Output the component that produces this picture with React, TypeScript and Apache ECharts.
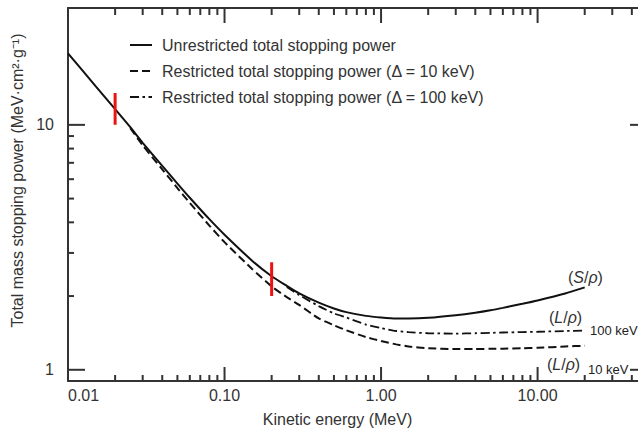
import React, { useEffect, useRef } from "react";
import * as echarts from "echarts";

// Kinetic energy (MeV)
const energy = [0.01, 0.015, 0.02, 0.025, 0.03, 0.04, 0.05, 0.06, 0.08, 0.1, 0.15, 0.2, 0.25, 0.3, 0.4, 0.5, 0.6, 0.8, 1.0, 1.25, 1.5, 2, 3, 4, 5, 6, 8, 10, 15, 20];
// Unrestricted total stopping power (S/rho)
const unrestricted = [19.6, 14.4, 11.6, 9.78, 8.45, 6.8, 5.76, 5.04, 4.12, 3.56, 2.79, 2.41, 2.2, 2.05, 1.88, 1.78, 1.72, 1.66, 1.635, 1.62, 1.62, 1.63, 1.67, 1.71, 1.75, 1.79, 1.86, 1.92, 2.05, 2.17];
// Restricted, delta = 10 keV
const restricted10 = [null, null, null, 9.7, 8.25, 6.58, 5.52, 4.8, 3.88, 3.32, 2.58, 2.19, 1.98, 1.84, 1.62, 1.52, 1.45, 1.36, 1.31, 1.27, 1.245, 1.225, 1.215, 1.215, 1.218, 1.22, 1.225, 1.23, 1.245, 1.254];
// Restricted, delta = 100 keV
const restricted100 = [null, null, null, null, null, null, null, null, null, null, null, null, 2.18, 2.02, 1.82, 1.7, 1.635, 1.53, 1.48, 1.44, 1.425, 1.41, 1.405, 1.41, 1.415, 1.42, 1.425, 1.43, 1.44, 1.445];

// Red markers
const markerEnergy = [0.02, 0.2];
const markerLow = [10, 2.0];
const markerHigh = [13.5, 2.75];

// Ticks
const xMajorTicks = [0.1, 1, 10];
const xMinorTicks = [0.02, 0.03, 0.04, 0.05, 0.06, 0.07, 0.08, 0.09, 0.2, 0.3, 0.4, 0.5, 0.6, 0.7, 0.8, 0.9, 2, 3, 4, 5, 6, 7, 8, 9, 20, 30, 40];
const yMajorTicks = [1, 10];
const yMinorTicks = [2, 3, 4, 5, 6, 7, 8, 9];

const seriesNames = [
  "Unrestricted total stopping power",
  "Restricted total stopping power (Δ = 10 keV)",
  "Restricted total stopping power (Δ = 100 keV)",
];

const FONT = "'Liberation Sans', Arial, Helvetica, sans-serif";
const AX = "#333";
const X_MIN = 0.01, X_MAX = 50, Y_MIN = 0.9, Y_MAX = 30;

const toPairs = (vals: (number | null)[]) =>
  energy.map((e, i) => [e, vals[i]]).filter((p) => p[1] != null);

export default function App() {
  const ref = useRef<HTMLDivElement>(null);
  useEffect(() => {
    if (!ref.current) return;
    const chart = echarts.init(ref.current, undefined, { renderer: "svg" });
    const tickStyle = { stroke: AX, lineWidth: 2 };
    const baseX = {
      type: "log",
      logBase: 10,
      min: X_MIN,
      max: X_MAX,
      splitLine: { show: false },
      axisTick: { show: false },
      axisLine: { show: true, lineStyle: { color: AX, width: 2 } },
    };
    const baseY = {
      type: "log",
      logBase: 10,
      min: Y_MIN,
      max: Y_MAX,
      splitLine: { show: false },
      axisTick: { show: false },
      axisLine: { show: true, lineStyle: { color: AX, width: 2 } },
    };
    const rich = {
      n: { fontFamily: FONT, fontSize: 16, fill: "#333" },
      i: { fontFamily: FONT, fontSize: 16, fontStyle: "italic", fill: "#333" },
    };
    // [x, y, kind, length]; kind 0 = x tick, 1 = y tick
    const tickData = [
      ...xMajorTicks.map((v) => [v, 1, 0, 1]),
      ...xMinorTicks.map((v) => [v, 1, 0, 0]),
      ...yMajorTicks.map((v) => [0.1, v, 1, 1]),
      ...yMinorTicks.map((v) => [0.1, v, 1, 0]),
    ];
    const option: any = {
      animation: false,
      textStyle: { fontFamily: FONT },
      grid: { left: 68, top: 8, right: -9, bottom: 51, containLabel: false, outerBoundsMode: "none" },
      legend: {
        data: seriesNames,
        orient: "vertical",
        left: 124,
        top: 32,
        itemWidth: 22,
        itemHeight: 14,
        itemGap: 10,
        itemStyle: { opacity: 0 },
        textStyle: { fontFamily: FONT, fontSize: 16, color: "#333", padding: [0, 0, 0, 5] },
        selectedMode: false,
      },
      xAxis: [
        {
          ...baseX,
          position: "bottom",
          name: "Kinetic energy (MeV)",
          nameLocation: "middle",
          nameGap: 30,
          nameTextStyle: { fontFamily: FONT, fontSize: 16, color: "#333", padding: [0, 40, 0, 0] },
          axisLabel: {
            show: true,
            fontFamily: FONT,
            fontSize: 16,
            color: "#333",
            margin: 6,
            showMinLabel: true,
            showMaxLabel: false,
            alignMinLabel: "left",
            formatter: (v: number) => v.toFixed(2),
          },
        },
        { ...baseX, position: "top", axisLabel: { show: false } },
      ],
      yAxis: [
        {
          ...baseY,
          position: "left",
          name: "Total mass stopping power (MeV·cm²·g⁻¹)",
          nameLocation: "middle",
          nameGap: 38,
          nameTextStyle: { fontFamily: FONT, fontSize: 16, color: "#333", padding: [0, 0, 0, 28] },
          axisLabel: {
            show: true,
            fontFamily: FONT,
            fontSize: 16,
            color: "#333",
            margin: 14,
            showMinLabel: false,
            showMaxLabel: false,
            formatter: (v: number) => String(Math.round(v)),
          },
        },
        { ...baseY, position: "right", axisLabel: { show: false } },
      ],
      series: [
        {
          name: seriesNames[0],
          type: "line",
          data: toPairs(unrestricted),
          symbol: "none",
          smooth: 0.2,
          lineStyle: { color: "#111", width: 2, type: "solid" },
          itemStyle: { color: "#111" },
          z: 3,
        },
        {
          name: seriesNames[1],
          type: "line",
          data: toPairs(restricted10),
          symbol: "none",
          smooth: 0.2,
          lineStyle: { color: "#111", width: 2, type: [8, 4] },
          itemStyle: { color: "#111" },
          z: 3,
        },
        {
          name: seriesNames[2],
          type: "line",
          data: toPairs(restricted100),
          symbol: "none",
          smooth: 0.2,
          lineStyle: { color: "#111", width: 1.8, type: [9, 3.5, 2.5, 3.5] },
          itemStyle: { color: "#111" },
          z: 3,
        },
        ...markerEnergy.map((e, i) => ({
          type: "line",
          data: [
            [e, markerLow[i]],
            [e, markerHigh[i]],
          ],
          symbol: "none",
          lineStyle: { color: "#ee1111", width: 3 },
          z: 5,
          silent: true,
        })),
        {
          type: "custom",
          coordinateSystem: "cartesian2d",
          silent: true,
          clip: false,
          z: 2,
          data: tickData,
          renderItem: (params: any, api: any) => {
            const cs = params.coordSys;
            const kind = api.value(2);
            const major = api.value(3) === 1;
            const p = api.coord([api.value(0), api.value(1)]);
            if (kind === 0) {
              const x = p[0];
              const lb = major ? 14 : 6;
              const lt = major ? 15 : 7;
              return {
                type: "group",
                children: [
                  { type: "line", shape: { x1: x, y1: cs.y + cs.height, x2: x, y2: cs.y + cs.height - lb }, style: tickStyle },
                  { type: "line", shape: { x1: x, y1: cs.y, x2: x, y2: cs.y + lt }, style: tickStyle },
                ],
              };
            }
            const y = p[1];
            const l = major ? 17 : 6;
            return {
              type: "group",
              children: [
                { type: "line", shape: { x1: cs.x, y1: y, x2: cs.x + l, y2: y }, style: tickStyle },
                { type: "line", shape: { x1: cs.x + cs.width, y1: y, x2: cs.x + cs.width - l, y2: y }, style: tickStyle },
              ],
            };
          },
        },
      ],
      graphic: [
        { type: "text", left: 568, top: 269, style: { text: "{n|(}{i|S}{n|/}{i|ρ}{n|)}", rich } },
        { type: "text", left: 549, top: 309, style: { text: "{n|(}{i|L}{n|/}{i|ρ}{n|)}", rich } },
        { type: "text", left: 590, top: 324, style: { text: "100 keV", fontFamily: FONT, fontSize: 13, fill: "#222" } },
        { type: "text", left: 547, top: 356, style: { text: "{n|(}{i|L}{n|/}{i|ρ}{n|)}", rich } },
        { type: "text", left: 588, top: 363, style: { text: "10 keV", fontFamily: FONT, fontSize: 13, fill: "#222" } },
      ],
    };
    chart.setOption(option);
    return () => chart.dispose();
  }, []);
  return (
    <div
      ref={ref}
      style={{ position: "fixed", left: 0, top: 0, width: 638, height: 432, background: "#fff" }}
    />
  );
}
